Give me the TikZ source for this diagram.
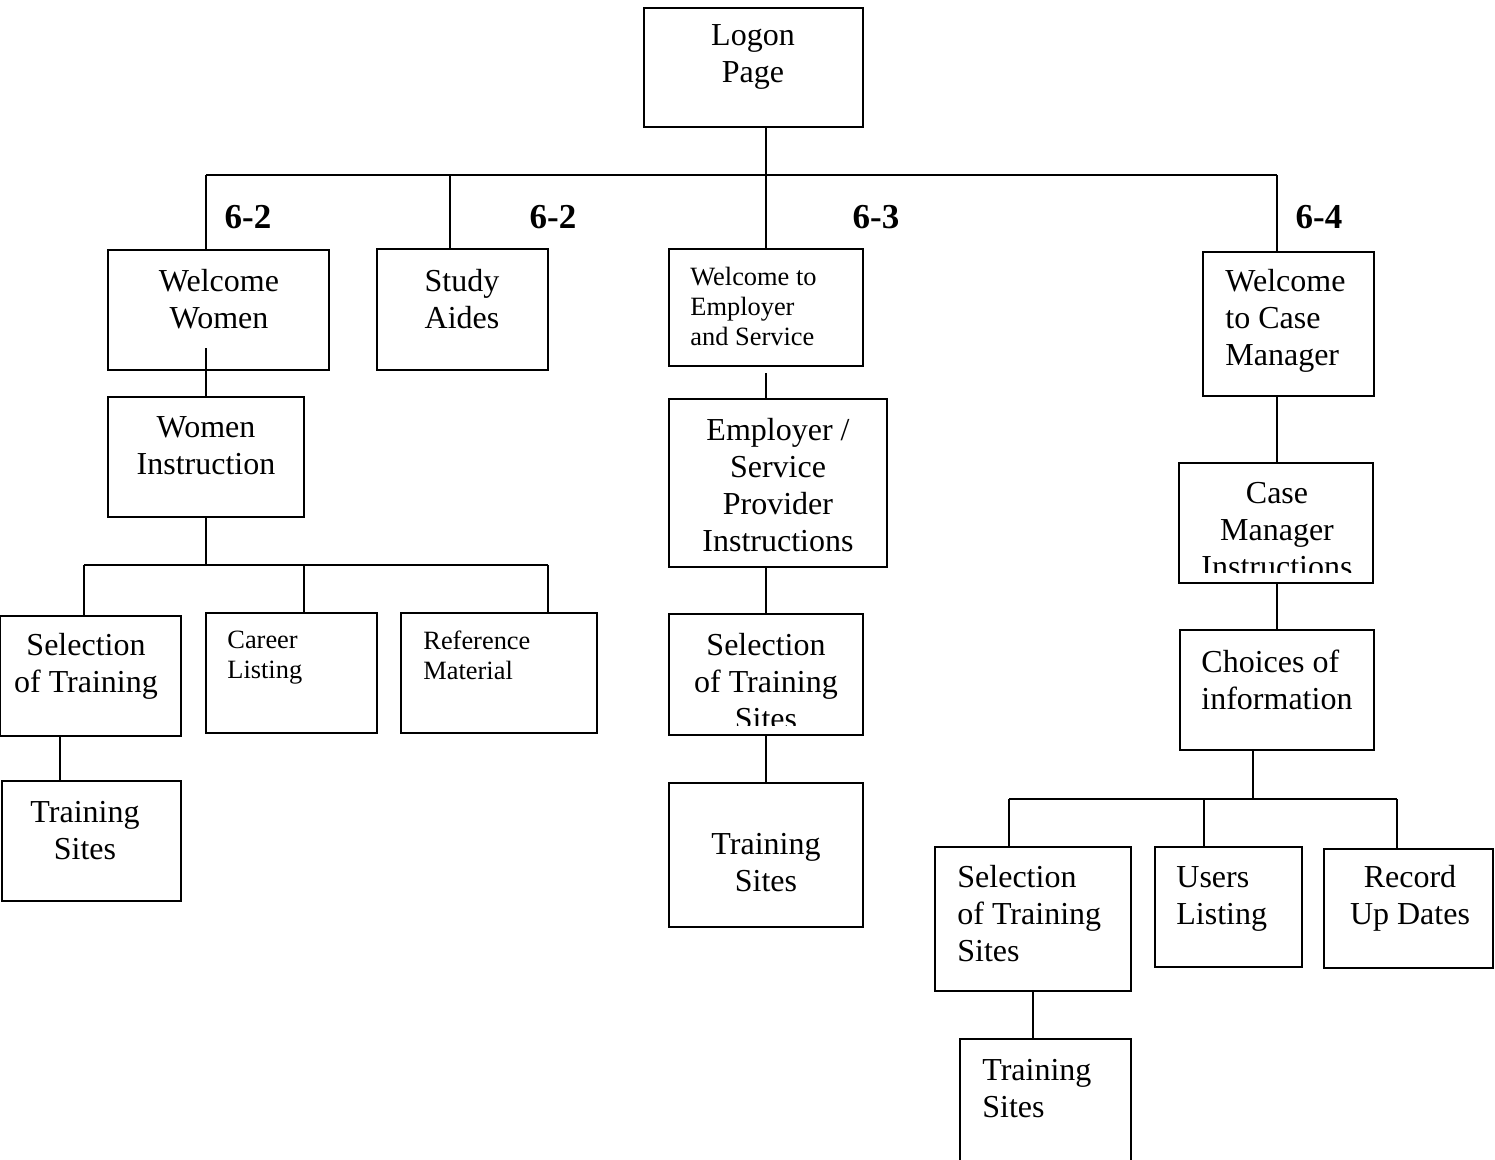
\documentclass[tikz,border=0pt]{standalone}
\usepackage{fontspec}
\setmainfont{Liberation Serif}
\tikzset{
  box/.style={draw=black, line width=1.35pt, rectangle, inner sep=0pt, fill=none},
  conn/.style={draw=black, line width=1.35pt},
  big/.style={font=\fontsize{16}{18.5}\selectfont, inner sep=0pt},
  small/.style={font=\fontsize{13.2}{15}\selectfont, inner sep=0pt},
  lbl/.style={font=\fontsize{17.5}{20}\selectfont\bfseries, inner sep=0pt}
}
\newcommand\mybox[5]{\node[box, minimum width={(#4-#2)*0.5pt}, minimum height={(#5-#3)*0.5pt}] (#1) at ({(#2+#4)/2},{(#3+#5)/2}) {};}
\begin{document}
\begin{tikzpicture}[x=0.5pt,y=-0.5pt]
\useasboundingbox[fill=white] (0,0) rectangle (1495,1160);

% boxes
\mybox{logon}{644}{8}{863}{127}
\mybox{ww}{108}{250}{329}{370}
\mybox{sa}{377}{249}{548}{370}
\mybox{we}{669}{249}{863}{366}
\mybox{wc}{1203}{252}{1374}{396}
\mybox{wi}{108}{397}{304}{517}
\mybox{ls}{0}{616}{181}{736}
\mybox{cl}{206}{613}{377}{733}
\mybox{rm}{401}{613}{597}{733}
\mybox{lts}{2}{781}{181}{901}
\mybox{es}{669}{399}{887}{567}
\mybox{ms}{669}{614}{863}{735}
\mybox{mts}{669}{783}{863}{927}
\mybox{cm}{1179}{463}{1373}{583}
\mybox{ci}{1180}{630}{1374}{750}
\mybox{rs}{935}{847}{1131}{991}
\mybox{ul}{1155}{847}{1302}{967}
\mybox{rec}{1324}{849}{1493}{968}
\mybox{rts}{960}{1039}{1131}{1164}

% texts
\node[big, align=center] (tlogon) at (753,57) {Logon\\Page};
\node[big, align=center] (tww) at (219,299) {Welcome\\Women};
\node[big, align=center] (tsa) at (462,299) {Study\\Aides};
\node[small, align=left, anchor=west] (twe) at (690,306) {Welcome to\\Employer\\and Service};
\node[big, align=left, anchor=west] (twc) at (1225,321) {Welcome\\to Case\\Manager};
\node[big, align=center] (twi) at (206,446) {Women\\Instruction};
\node[big, align=center] (tls) at (86,666) {Selection\\of Training};
\node[small, align=left, anchor=west] (tcl) at (227,658) {Career\\Listing};
\node[small, align=left, anchor=west] (trm) at (423,655) {Reference\\Material};
\node[big, align=center] (tlts) at (85,831) {Training\\Sites};
\node[big, align=center] (tes) at (778,485) {Employer /\\Service\\Provider\\Instructions};
\begin{scope}
\clip (669,614) rectangle (863,725);
\node[big, align=center] (tms) at (766,682) {Selection\\of Training\\Sites};
\end{scope}
\node[big, align=center] (tmts) at (766,863) {Training\\Sites};
\begin{scope}
\clip (1179,463) rectangle (1373,573);
\node[big, align=center] (tcm) at (1277,530) {Case\\Manager\\Instructions};
\end{scope}
\node[big, align=left, anchor=west] (tci) at (1201,680) {Choices of\\information};
\node[big, align=left, anchor=west] (trs) at (957,914) {Selection\\of Training\\Sites};
\node[big, align=left, anchor=west] (tul) at (1176,899) {Users\\Listing};
\node[big, align=center] (trec) at (1410,898) {Record\\Up Dates};
\node[big, align=left, anchor=west] (trts) at (982,1089) {Training\\Sites};

% labels
\node[lbl] (l1) at (248,217) {6-2};
\node[lbl] (l2) at (553,217) {6-2};
\node[lbl] (l3) at (876,217) {6-3};
\node[lbl] (l4) at (1319,217) {6-4};

% bus coordinates
\coordinate (tL) at (206,175);
\coordinate (tS) at (450,175);
\coordinate (tR) at (1277,175);
\coordinate (lB) at (206,565);
\coordinate (lL) at (84,565);
\coordinate (lC) at (304,565);
\coordinate (lR) at (548,565);
\coordinate (rB) at (1253,799);
\coordinate (rL) at (1009,799);
\coordinate (rC) at (1204,799);
\coordinate (rR) at (1397,799);
\coordinate (lsx) at (60,736);
\coordinate (rsx) at (1033,991);

% top connectors
\draw[conn] (tL) -- (tR);
\draw[conn] (logon.south -| we.north) -- (we.north);
\draw[conn] (tL) -- (tL |- ww.north);
\draw[conn] (tS) -- (tS |- sa.north);
\draw[conn] (tR) -- (tR |- wc.north);

% left branch
\draw[conn] (wi.north) -- ++(0,-48);
\draw[conn] (wi.south) -- (lB);
\draw[conn] (lL) -- (lR);
\draw[conn] (lL) -- (lL |- ls.north);
\draw[conn] (lC) -- (lC |- cl.north);
\draw[conn] (lR) -- (lR |- rm.north);
\draw[conn] (lsx) -- (lsx |- lts.north);

% middle branch
\draw[conn] ([yshift=-3pt]we.south) -- (we.south |- es.north);
\draw[conn] (ms.north |- es.south) -- (ms.north);
\draw[conn] (ms.south) -- (mts.north);

% right branch
\draw[conn] (cm.north -| tR) -- (tR |- wc.south);
\draw[conn] (ci.north |- cm.south) -- (ci.north);
\draw[conn] (rB |- ci.south) -- (rB);
\draw[conn] (rL) -- (rR);
\draw[conn] (rL) -- (rL |- rs.north);
\draw[conn] (rC) -- (rC |- ul.north);
\draw[conn] (rR) -- (rR |- rec.north);
\draw[conn] (rsx) -- (rsx |- rts.north);
\end{tikzpicture}
\end{document}
